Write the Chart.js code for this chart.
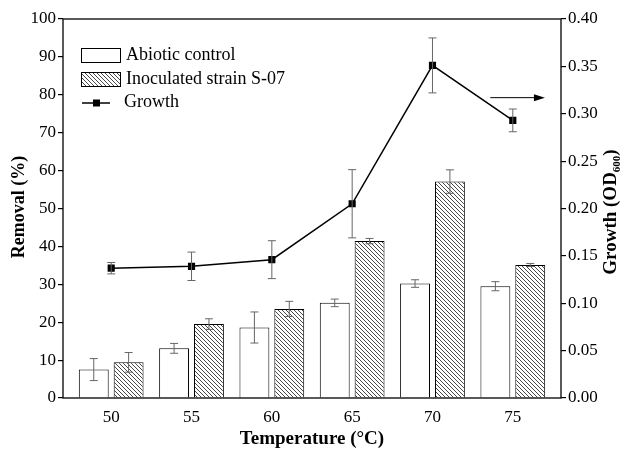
<!DOCTYPE html>
<html>
<head>
<meta charset="utf-8">
<script src="https://cdn.jsdelivr.net/npm/chart.js@4.4.0/dist/chart.umd.min.js"></script>
<style>
  html, body { margin: 0; padding: 0; background: #fff; }
  #wrap { width: 629px; height: 450px; }
</style>
</head>
<body>
<div id="wrap"><canvas id="chart"></canvas></div>
<script>
const temperatures = [50, 55, 60, 65, 70, 75];
const abioticRemoval = [7.5, 13.1, 18.6, 25.1, 30.2, 29.5];
const abioticErr = [2.9, 1.3, 4.1, 1.0, 1.0, 1.2];
const inoculatedRemoval = [9.4, 19.5, 23.5, 41.4, 57.1, 35.1];
const inoculatedErr = [2.6, 1.4, 2.0, 0.7, 3.1, 0.4];
const growthOD = [0.137, 0.139, 0.146, 0.205, 0.351, 0.293];
const growthErr = [0.006, 0.015, 0.020, 0.036, 0.029, 0.012];
const removalTicks = [0, 10, 20, 30, 40, 50, 60, 70, 80, 90, 100];
const growthTicks = [0, 0.05, 0.1, 0.15, 0.2, 0.25, 0.3, 0.35, 0.4];

const serif = "'Liberation Serif', 'Times New Roman', serif";

// diagonal hatch fill for the inoculated bars
function hatch() {
  const c = document.createElement("canvas");
  c.width = 4; c.height = 4;
  const g = c.getContext("2d");
  g.fillStyle = "#fff";
  g.fillRect(0, 0, 4, 4);
  g.strokeStyle = "#333";
  g.lineWidth = 0.9;
  g.beginPath();
  g.moveTo(-1, -1); g.lineTo(5, 5);
  g.moveTo(-1, 3); g.lineTo(1, 5);
  g.moveTo(3, -1); g.lineTo(5, 1);
  g.stroke();
  return g.createPattern(c, "repeat");
}
const hatchFill = hatch();

const errorBars = {
  id: "errorBars",
  afterDatasetsDraw(chart) {
    const ctx = chart.ctx;
    ctx.save();
    ctx.strokeStyle = "#666";
    ctx.lineWidth = 1;
    chart.data.datasets.forEach((ds, di) => {
      const meta = chart.getDatasetMeta(di);
      const scale = chart.scales[meta.yAxisID];
      meta.data.forEach((el, i) => {
        const v = ds.data[i].y;
        const e = ds.errors[i];
        const y1 = scale.getPixelForValue(v + e);
        const y2 = scale.getPixelForValue(v - e);
        const x = el.x;
        ctx.beginPath();
        ctx.moveTo(x, y1); ctx.lineTo(x, y2);
        ctx.moveTo(x - 4, y1); ctx.lineTo(x + 4, y1);
        ctx.moveTo(x - 4, y2); ctx.lineTo(x + 4, y2);
        ctx.stroke();
      });
    });
    ctx.restore();
  }
};

const decorations = {
  id: "decorations",
  afterDraw(chart) {
    const ctx = chart.ctx;
    const a = chart.chartArea;
    const xs = chart.scales.x, y2 = chart.scales.y2;
    ctx.save();
    // frame
    ctx.strokeStyle = "#000";
    ctx.lineWidth = 1.3;
    ctx.strokeRect(a.left, a.top, a.right - a.left, a.bottom - a.top);

    // arrow pointing to the right axis
    const ay = y2.getPixelForValue(0.317);
    const ax1 = xs.getPixelForValue(73.6), ax2 = xs.getPixelForValue(77.0);
    ctx.lineWidth = 1;
    ctx.beginPath();
    ctx.moveTo(ax1, ay); ctx.lineTo(ax2 - 8, ay);
    ctx.stroke();
    ctx.fillStyle = "#000";
    ctx.beginPath();
    ctx.moveTo(ax2, ay); ctx.lineTo(ax2 - 11, ay - 3.5); ctx.lineTo(ax2 - 11, ay + 3.5);
    ctx.closePath(); ctx.fill();

    // legend
    const ds = chart.data.datasets;
    ctx.font = "18px " + serif;
    ctx.textBaseline = "middle";
    ctx.textAlign = "left";
    ctx.lineWidth = 1;
    ctx.fillStyle = "#fff";
    ctx.fillRect(81, 48, 39, 14);
    ctx.strokeRect(81.5, 48.5, 39, 14);
    ctx.fillStyle = hatchFill;
    ctx.fillRect(81, 72, 39, 14);
    ctx.strokeRect(81.5, 72.5, 39, 14);
    ctx.beginPath();
    ctx.moveTo(82, 103); ctx.lineTo(110, 103);
    ctx.lineWidth = 1.5;
    ctx.stroke();
    ctx.fillStyle = "#000";
    ctx.fillRect(93, 99.5, 7, 7);
    ctx.fillText(ds[0].label, 126, 55);
    ctx.fillText(ds[1].label, 126, 79);
    ctx.fillText(ds[2].label, 124, 102);

    // axis titles
    ctx.font = "bold 19px " + serif;
    ctx.textAlign = "center";
    ctx.fillText("Temperature (\u00B0C)", (a.left + a.right) / 2, 439);

    ctx.font = "bold 18px " + serif;
    ctx.save();
    ctx.translate(19, 207);
    ctx.rotate(-Math.PI / 2);
    ctx.fillText("Removal (%)", 0, 0);
    ctx.restore();

    ctx.save();
    ctx.translate(611, 212);
    ctx.rotate(-Math.PI / 2);
    const main = "Growth (OD", sub = "600", close = ")";
    ctx.font = "bold 19px " + serif;
    const w1 = ctx.measureText(main).width, w3 = ctx.measureText(close).width;
    ctx.font = "bold 11px " + serif;
    const w2 = ctx.measureText(sub).width;
    let x = -(w1 + w2 + w3) / 2;
    ctx.textAlign = "left";
    ctx.font = "bold 19px " + serif;
    ctx.fillText(main, x, 0);
    x += w1;
    ctx.font = "bold 11px " + serif;
    ctx.fillText(sub, x, 6);
    x += w2;
    ctx.font = "bold 19px " + serif;
    ctx.fillText(close, x, 0);
    ctx.restore();

    ctx.restore();
  }
};

const pts = (vals) => temperatures.map((t, i) => ({ x: t, y: vals[i] }));

new Chart(document.getElementById("chart"), {
  type: "bar",
  data: {
    datasets: [
      {
        label: "Abiotic control",
        data: pts(abioticRemoval),
        errors: abioticErr,
        backgroundColor: "#fff",
        borderColor: "#000",
        borderWidth: 1,
        yAxisID: "y",
        categoryPercentage: 0.868,
        barPercentage: 0.857,
        order: 2,
      },
      {
        label: "Inoculated strain S-07",
        data: pts(inoculatedRemoval),
        errors: inoculatedErr,
        backgroundColor: hatchFill,
        borderColor: "#000",
        borderWidth: 1,
        yAxisID: "y",
        categoryPercentage: 0.868,
        barPercentage: 0.857,
        order: 2,
      },
      {
        type: "line",
        label: "Growth",
        data: pts(growthOD),
        errors: growthErr,
        borderColor: "#000",
        borderWidth: 1.5,
        pointStyle: "rect",
        pointRadius: 4,
        pointBackgroundColor: "#000",
        pointBorderColor: "#000",
        yAxisID: "y2",
        order: 1,
      },
    ],
  },
  options: {
    responsive: true,
    maintainAspectRatio: false,
    animation: false,
    layout: { padding: { top: 19, left: 0, right: 0, bottom: 0 } },
    plugins: { legend: { display: false }, tooltip: { enabled: false } },
    scales: {
      x: {
        type: "linear",
        min: 47,
        max: 78,
        offset: false,
        afterBuildTicks: (s) => { s.ticks = temperatures.map((v) => ({ value: v })); },
        afterFit: (s) => { s.height = 52; },
        grid: { display: false, offset: false },
        border: { display: false },
        ticks: { color: "#000", padding: 1, font: { family: serif, size: 17 } },
      },
      y: {
        position: "left",
        min: 0,
        max: 100,
        afterBuildTicks: (s) => { s.ticks = removalTicks.map((v) => ({ value: v })); },
        afterFit: (s) => { s.width = 63; },
        grid: { drawOnChartArea: false, color: "#000", tickLength: 5, lineWidth: 1.2 },
        border: { display: false },
        ticks: { color: "#000", padding: 2, font: { family: serif, size: 17 } },
      },
      y2: {
        position: "right",
        min: 0,
        max: 0.4,
        afterBuildTicks: (s) => { s.ticks = growthTicks.map((v) => ({ value: v })); },
        afterFit: (s) => { s.width = 68; },
        grid: { drawOnChartArea: false, color: "#000", tickLength: 5, lineWidth: 1.2 },
        border: { display: false },
        ticks: {
          color: "#000",
          padding: 2,
          font: { family: serif, size: 17 },
          callback: (v) => v.toFixed(2),
        },
      },
    },
  },
  plugins: [errorBars, decorations],
});
</script>
</body>
</html>
